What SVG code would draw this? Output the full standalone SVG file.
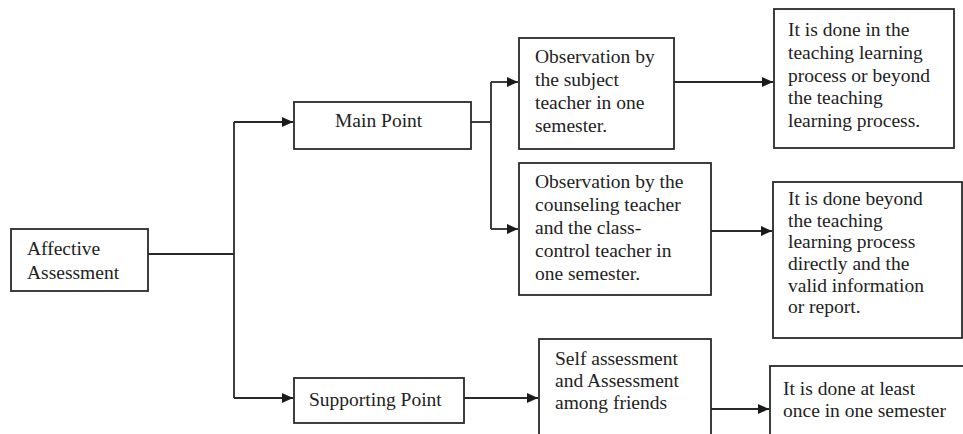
<svg xmlns="http://www.w3.org/2000/svg" width="963" height="434" viewBox="0 0 963 434">
  <defs>
    <marker id="arrow" markerWidth="12" markerHeight="11" refX="11" refY="5.5" orient="auto" markerUnits="userSpaceOnUse">
      <path d="M0,0.5 L11,5.5 L0,10.5 Z" fill="#1a1a1a"/>
    </marker>
    <style>
      .box { fill: #ffffff; stroke: #2a2a2a; stroke-width: 1.8; }
      .lbl { font-family: "Liberation Serif", "Times New Roman", serif; font-size: 19.5px; fill: #222222; }
      .wire { fill: none; stroke: #2a2a2a; stroke-width: 1.8; }
    </style>
  </defs>

  <rect width="963" height="434" fill="#ffffff"/>

  <!-- connectors -->
  <g id="connectors">
    <path class="wire" d="M148,254 H234"/>
    <path class="wire" d="M234,122 V398"/>
    <path class="wire" d="M234,122 H293" marker-end="url(#arrow)"/>
    <path class="wire" d="M234,398 H293" marker-end="url(#arrow)"/>
    <path class="wire" d="M471,122 H491"/>
    <path class="wire" d="M491,82 V229"/>
    <path class="wire" d="M491,82 H518" marker-end="url(#arrow)"/>
    <path class="wire" d="M491,229 H518" marker-end="url(#arrow)"/>
    <path class="wire" d="M674,82 H773" marker-end="url(#arrow)"/>
    <path class="wire" d="M711,231 H772" marker-end="url(#arrow)"/>
    <path class="wire" d="M464,398 H538" marker-end="url(#arrow)"/>
    <path class="wire" d="M711,409 H769" marker-end="url(#arrow)"/>
  </g>

  <g id="affective-assessment">
    <rect class="box" x="11" y="229" width="137" height="62"/>
    <text class="lbl" x="27" y="255">Affective</text>
    <text class="lbl" x="27" y="279">Assessment</text>
  </g>

  <g id="main-point">
    <rect class="box" x="294" y="102" width="177" height="47"/>
    <text class="lbl" x="335" y="127">Main Point</text>
  </g>

  <g id="supporting-point">
    <rect class="box" x="294" y="378" width="170" height="45"/>
    <text class="lbl" x="309" y="406">Supporting Point</text>
  </g>

  <g id="subject-teacher">
    <rect class="box" x="519" y="38" width="155" height="111"/>
    <text class="lbl" x="535" y="63">Observation by</text>
    <text class="lbl" x="535" y="86">the subject</text>
    <text class="lbl" x="535" y="109">teacher in one</text>
    <text class="lbl" x="535" y="132">semester.</text>
  </g>

  <g id="counseling-teacher">
    <rect class="box" x="519" y="163" width="192" height="132"/>
    <text class="lbl" x="535" y="188">Observation by the</text>
    <text class="lbl" x="535" y="211">counseling teacher</text>
    <text class="lbl" x="535" y="234">and the class-</text>
    <text class="lbl" x="535" y="257">control teacher in</text>
    <text class="lbl" x="535" y="280">one semester.</text>
  </g>

  <g id="self-assessment">
    <rect class="box" x="539" y="339" width="172" height="110"/>
    <text class="lbl" x="555" y="365">Self assessment</text>
    <text class="lbl" x="555" y="387">and Assessment</text>
    <text class="lbl" x="555" y="409">among friends</text>
  </g>

  <g id="in-process">
    <rect class="box" x="774" y="9" width="180" height="139"/>
    <text class="lbl" x="788" y="36">It is done in the</text>
    <text class="lbl" x="788" y="59">teaching learning</text>
    <text class="lbl" x="788" y="82">process or beyond</text>
    <text class="lbl" x="788" y="104">the teaching</text>
    <text class="lbl" x="788" y="127">learning process.</text>
  </g>

  <g id="beyond-process">
    <rect class="box" x="773" y="182" width="189" height="156"/>
    <text class="lbl" x="788" y="205">It is done beyond</text>
    <text class="lbl" x="788" y="227">the teaching</text>
    <text class="lbl" x="788" y="248">learning process</text>
    <text class="lbl" x="788" y="270">directly and the</text>
    <text class="lbl" x="788" y="292">valid information</text>
    <text class="lbl" x="788" y="313">or report.</text>
  </g>

  <g id="once-per-semester">
    <rect class="box" x="770" y="366" width="200" height="90"/>
    <text class="lbl" x="783" y="395">It is done at least</text>
    <text class="lbl" x="783" y="417">once in one semester</text>
  </g>
</svg>
